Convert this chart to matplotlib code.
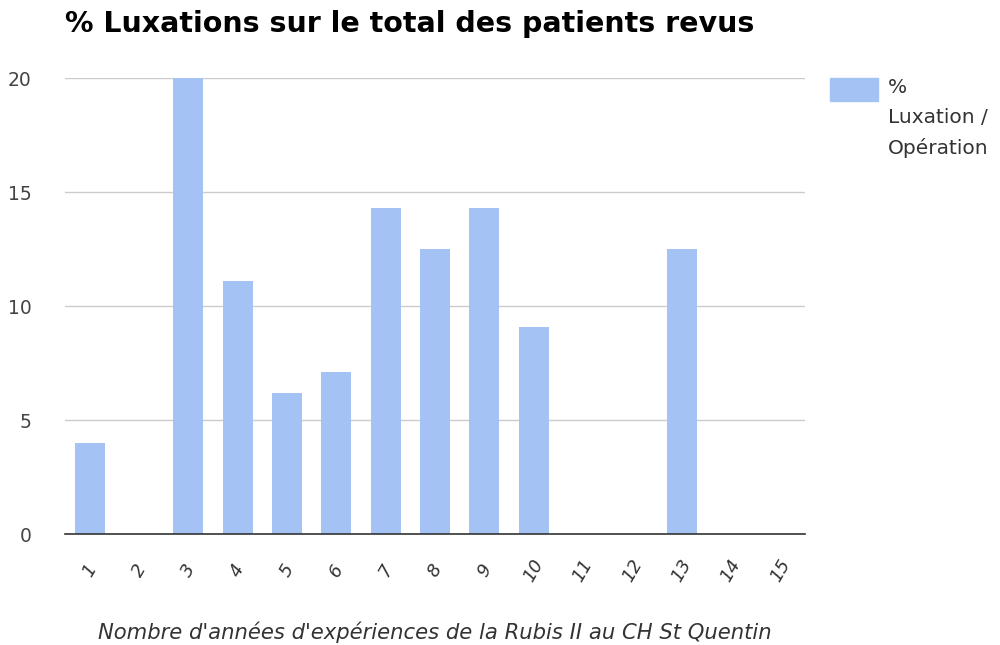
import matplotlib
matplotlib.use("Agg")
import matplotlib.pyplot as plt
from matplotlib.patches import Rectangle

years = [str(i) for i in range(1, 16)]
pct_luxation = [4.0, 0, 20.0, 11.1, 6.2, 7.1, 14.3, 12.5, 14.3, 9.1, 0, 0, 12.5, 0, 0]
y_ticks = [0, 5, 10, 15, 20]

bar_color = "#a4c2f4"

fig = plt.figure(figsize=(10, 6.45), dpi=100)
ax = fig.add_axes([0.065, 0.172, 0.74, 0.707])

x = list(range(len(years)))
ax.bar(x, pct_luxation, width=0.61, color=bar_color, zorder=2)

ax.set_xlim(-0.5, len(years) - 0.5)
ax.set_ylim(0, 20)
ax.set_yticks(y_ticks)
ax.set_yticklabels([str(v) for v in y_ticks], fontsize=13.5, color="#444444")
ax.set_xticks(x)
ax.set_xticklabels(years, rotation=60, ha="center", va="center", fontsize=13,
                   color="#333333", fontstyle="italic")
ax.tick_params(axis="both", length=0)
ax.tick_params(axis="x", pad=26)
ax.tick_params(axis="y", pad=24)

ax.grid(axis="y", color="#cccccc", linewidth=1, zorder=0)
for s in ["top", "right", "left"]:
    ax.spines[s].set_visible(False)
ax.spines["bottom"].set_color("#333333")
ax.spines["bottom"].set_linewidth(1.2)
ax.spines["bottom"].set_zorder(3)

fig.text(0.065, 0.963, "% Luxations sur le total des patients revus",
         fontsize=20.5, fontweight="bold", color="#000000", va="center")
fig.text(0.435, 1 - 632 / 645, "Nombre d'années d'expériences de la Rubis II au CH St Quentin",
         fontsize=15.2, fontstyle="italic", color="#333333", ha="center", va="center")

# legend
fig.patches.append(Rectangle((0.830, 1 - 101 / 645), 0.048, 23 / 645,
                             transform=fig.transFigure, color=bar_color))
fig.text(0.888, 1 - 78 / 645, "%\nLuxation /\nOpération", fontsize=14.5,
         color="#333333", va="top", ha="left", linespacing=1.72)

fig.savefig("out.png", dpi=100)
